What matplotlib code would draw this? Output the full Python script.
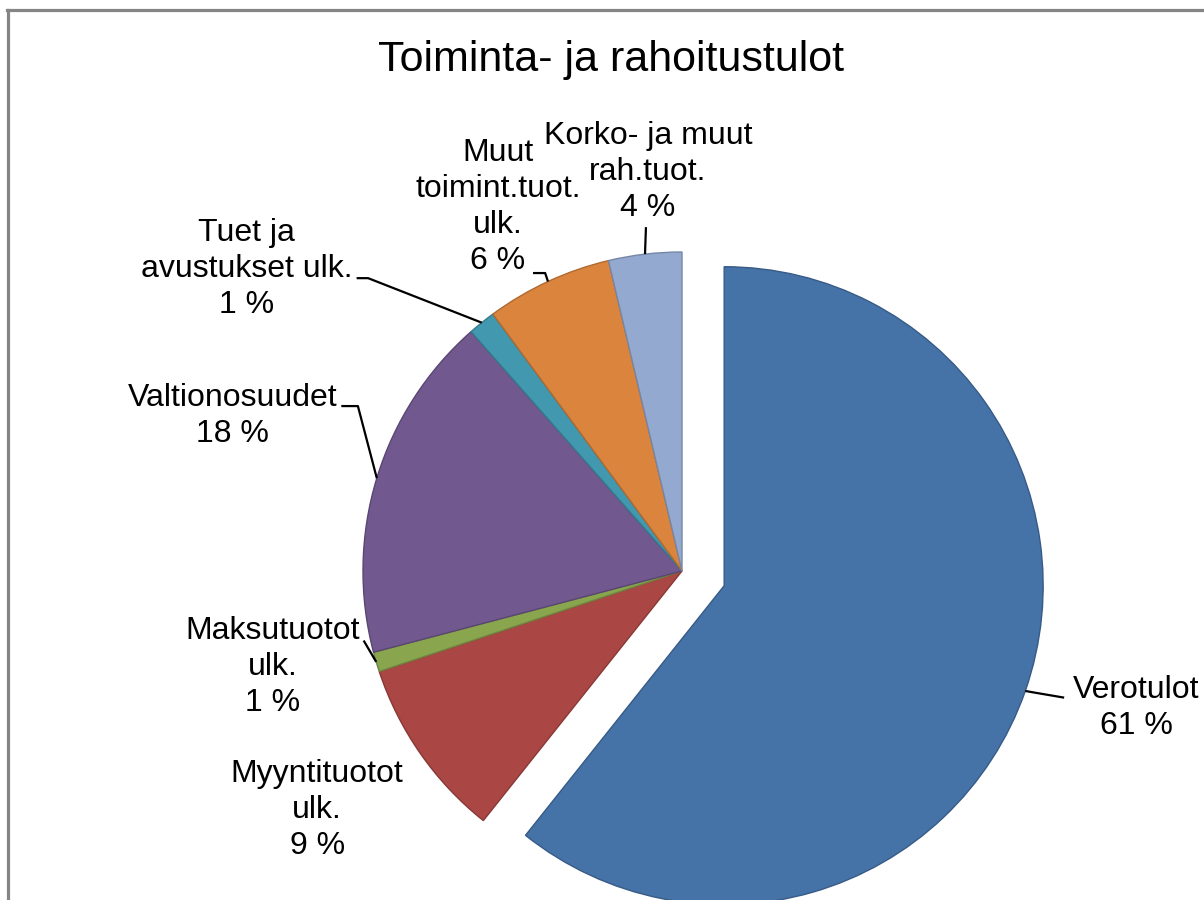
import numpy as np
import matplotlib
matplotlib.use('Agg')
import matplotlib.pyplot as plt
from matplotlib.colors import to_rgb
from matplotlib.lines import Line2D

plt.rcParams['font.family'] = ['Liberation Sans', 'DejaVu Sans']

# data (clockwise from 12 o'clock)
labels = ['Verotulot', 'Myyntituotot\nulk.', 'Maksutuotot\nulk.', 'Valtionosuudet',
          'Tuet ja\navustukset ulk.', 'Muut\ntoimint.tuot.\nulk.', 'Korko- ja muut\nrah.tuot.']
values = [60.7, 9.2, 1.0, 17.6, 1.4, 6.4, 3.7]
colors = ['#4572A7', '#AA4643', '#89A54E', '#71588F', '#4198AF', '#DB843D', '#93A9CF']
title = 'Toiminta- ja rahoitustulot'

# layout: label block centres and leader elbows (pie radius units)
label_pos = [(1.425, -0.43), (-1.144, -0.75), (-1.282, -0.30), (-1.41, 0.485),
             (-1.364, 0.948), (-0.577, 1.14), (-0.107, 1.25)]
leader_pts = [[(1.104, -0.381), (1.198, -0.397)],
              None,
              [(-0.998, -0.218)],
              [(-1.016, 0.517), (-1.068, 0.517)],
              [(-0.984, 0.918), (-1.02, 0.918)],
              [(-0.429, 0.934), (-0.467, 0.934)],
              [(-0.113, 1.078)]]

W, H = 1204, 900
R = 319.0
cx, cy = 682, 571

fig = plt.figure(figsize=(W / 100, H / 100), dpi=100)
ax = fig.add_axes([0, 0, 1, 1])

edge = [tuple(c * 0.8 for c in to_rgb(col)) for col in colors]
explode = [0.14, 0, 0, 0, 0, 0, 0]
wedges, _ = ax.pie(values, colors=colors, explode=explode, startangle=90,
                   counterclock=False, radius=1.0,
                   wedgeprops=dict(linewidth=1.0))
for w, e in zip(wedges, edge):
    w.set_edgecolor(e)

ax.set_xlim(-cx / R, (W - cx) / R)
ax.set_ylim(-(H - cy) / R, cy / R)
ax.set_aspect('equal')
ax.axis('off')

total = sum(values)
for i, w in enumerate(wedges):
    pct = int(round(values[i] / total * 100))
    txt = labels[i] + '\n' + str(pct) + ' %'
    lx, ly = label_pos[i]
    ax.text(lx, ly, txt, ha='center', va='center', fontsize=23,
            linespacing=1.26, color='#000000')
    if leader_pts[i] is None:
        continue
    mid = np.deg2rad((w.theta1 + w.theta2) / 2)
    x0 = w.center[0] + w.r * np.cos(mid)
    y0 = w.center[1] + w.r * np.sin(mid)
    xs = [x0] + [p[0] for p in leader_pts[i]]
    ys = [y0] + [p[1] for p in leader_pts[i]]
    ax.plot(xs, ys, color='black', lw=1.6, solid_capstyle='butt')

fig.text(611 / W, 1 - 60 / H, title, ha='center', va='center', fontsize=31)

# chart frame (cropped at right and bottom)
fig.add_artist(Line2D([7.5 / W, 7.5 / W], [0, 1 - 9.5 / H], color='#858585',
                      lw=2.3, transform=fig.transFigure))
fig.add_artist(Line2D([6.5 / W, 1], [1 - 9.5 / H, 1 - 9.5 / H], color='#858585',
                      lw=2.3, transform=fig.transFigure))

fig.savefig('out.png', dpi=100, facecolor='white')
